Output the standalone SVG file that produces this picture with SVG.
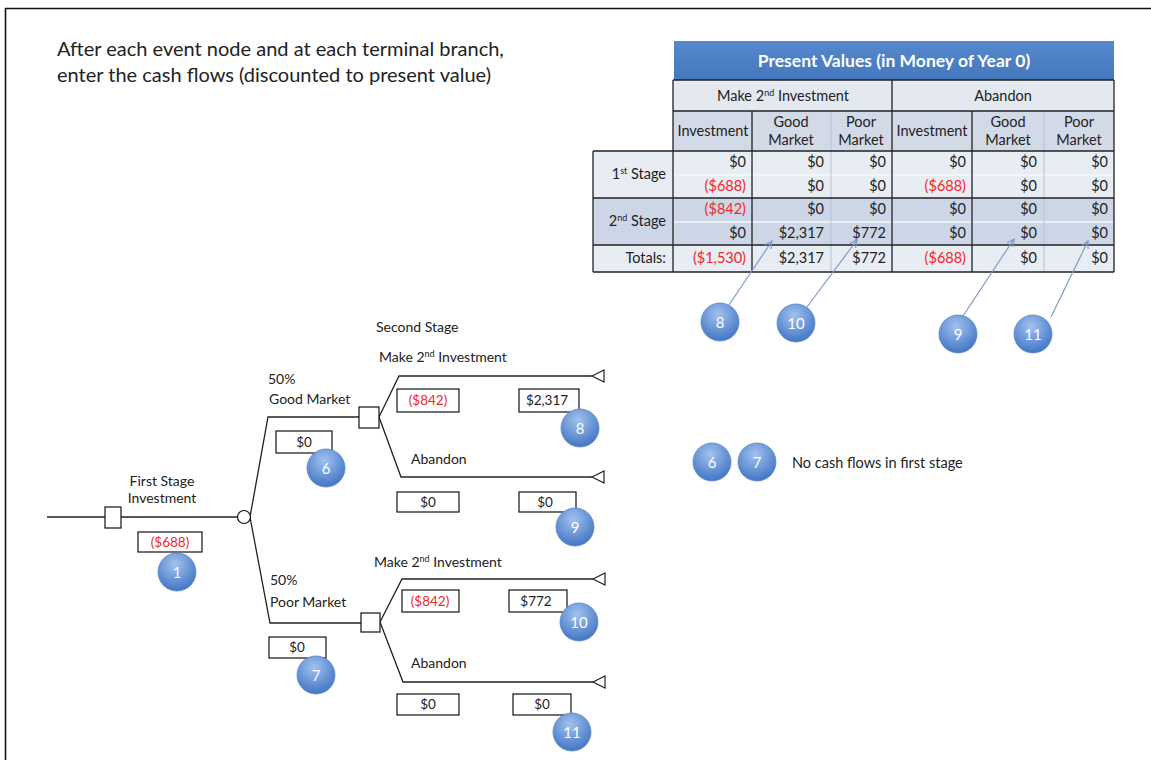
<svg xmlns="http://www.w3.org/2000/svg" width="1151" height="760" viewBox="0 0 1151 760">
<style>
text{font-family:Lato,"Liberation Sans",sans-serif;fill:#222}
.t{font-size:14.5px}
.r{text-anchor:end}
.m{text-anchor:middle}
.red{fill:#f02828}
.dk{stroke:#222;stroke-width:1.3;fill:none}
.lt{stroke:#f4f6fa;stroke-width:1.5;fill:none}
.ln{stroke:#222;stroke-width:1.3;fill:none}
.bx{fill:#fff;stroke:#111;stroke-width:1.2}
.bt{font-size:13.5px;text-anchor:middle}
.lb{font-size:14px}
.cn{font-size:15px;fill:#fff;text-anchor:middle}
.ar{stroke:#7f9cc8;stroke-width:1.2;fill:none}
</style>
<defs>
<radialGradient id="g" cx="0.45" cy="0.3" r="0.75">
<stop offset="0" stop-color="#a2c2ee"/>
<stop offset="1" stop-color="#3b70c2"/>
</radialGradient>
<linearGradient id="hb" x1="0" y1="0" x2="0" y2="1">
<stop offset="0" stop-color="#5588cc"/>
<stop offset="1" stop-color="#4577bd"/>
</linearGradient>
<marker id="a" viewBox="0 0 10 10" refX="9" refY="5" markerWidth="9" markerHeight="9" orient="auto" markerUnits="userSpaceOnUse">
<path d="M1 1 L9 5 L1 9" stroke="#7f9cc8" stroke-width="1.3" fill="none"/>
</marker>
<g id="c"><circle r="19" fill="url(#g)" stroke="#5a86c8" stroke-width="0.8"/></g>
</defs>
<rect width="1151" height="760" fill="#fff"/>
<path d="M5.5 760 V8.5 H1151" stroke="#111" stroke-width="1.6" fill="none"/>

<g id="intro">
<text x="57" y="56" style="font-size:20px">After each event node and at each terminal branch,</text>
<text x="57" y="82" style="font-size:20px">enter the cash flows (discounted to present value)</text>
</g>

<g id="table">
<rect x="674" y="41" width="440" height="39" fill="url(#hb)"/>
<text x="894" y="67" class="m" style="font-size:17.5px;font-weight:bold;fill:#fff">Present Values (in Money of Year 0)</text>
<rect x="673" y="80" width="441" height="31" fill="#e4e9f1"/>
<rect x="673" y="111" width="441" height="40" fill="#d2dae8"/>
<rect x="593" y="151" width="521" height="47" fill="#e8ecf3"/>
<rect x="593" y="198" width="521" height="47" fill="#cdd6e6"/>
<rect x="593" y="245" width="521" height="27" fill="#e8ecf3"/>
<path class="lt" d="M673 175 H1114 M673 222 H1114"/>
<path class="lt" d="M831 111 V272 M1044 111 V272" style="stroke:#b9c3d4;stroke-width:1"/>
<path class="dk" d="M673 80 H1114 M673 111 H1114 M593 151 H1114 M593 198 H1114 M593 245 H1114 M593 272 H1114 M593 151 V272 M673 80 V272 M752 111 V272 M892 80 V272 M972 111 V272 M1114 80 V272"/>
<text x="783" y="101" class="t m">Make 2<tspan dy="-5" style="font-size:9px">nd</tspan><tspan dy="5"> Investment</tspan></text>
<text x="1003" y="101" class="t m">Abandon</text>
<text x="713" y="136" class="t m">Investment</text>
<text x="791" y="127" class="t m">Good</text><text x="791" y="145" class="t m">Market</text>
<text x="861" y="127" class="t m">Poor</text><text x="861" y="145" class="t m">Market</text>
<text x="932" y="136" class="t m">Investment</text>
<text x="1008" y="127" class="t m">Good</text><text x="1008" y="145" class="t m">Market</text>
<text x="1079" y="127" class="t m">Poor</text><text x="1079" y="145" class="t m">Market</text>
<text x="666" y="179" class="t r">1<tspan dy="-5" style="font-size:9px">st</tspan><tspan dy="5"> Stage</tspan></text>
<text x="666" y="226" class="t r">2<tspan dy="-5" style="font-size:9px">nd</tspan><tspan dy="5"> Stage</tspan></text>
<text x="666" y="263" class="t r">Totals:</text>
<g>
<text x="746" y="167" class="t r">$0</text><text x="824" y="167" class="t r">$0</text><text x="886" y="167" class="t r">$0</text><text x="966" y="167" class="t r">$0</text><text x="1037" y="167" class="t r">$0</text><text x="1108" y="167" class="t r">$0</text>
<text x="746" y="191" class="t r red">($688)</text><text x="824" y="191" class="t r">$0</text><text x="886" y="191" class="t r">$0</text><text x="966" y="191" class="t r red">($688)</text><text x="1037" y="191" class="t r">$0</text><text x="1108" y="191" class="t r">$0</text>
<text x="746" y="214" class="t r red">($842)</text><text x="824" y="214" class="t r">$0</text><text x="886" y="214" class="t r">$0</text><text x="966" y="214" class="t r">$0</text><text x="1037" y="214" class="t r">$0</text><text x="1108" y="214" class="t r">$0</text>
<text x="746" y="238" class="t r">$0</text><text x="824" y="238" class="t r">$2,317</text><text x="886" y="238" class="t r">$772</text><text x="966" y="238" class="t r">$0</text><text x="1037" y="238" class="t r">$0</text><text x="1108" y="238" class="t r">$0</text>
<text x="746" y="263" class="t r red">($1,530)</text><text x="824" y="263" class="t r">$2,317</text><text x="886" y="263" class="t r">$772</text><text x="966" y="263" class="t r red">($688)</text><text x="1037" y="263" class="t r">$0</text><text x="1108" y="263" class="t r">$0</text>
</g>
</g>

<g id="connectors">
<path class="ar" d="M729 305 L772 241" marker-end="url(#a)"/>
<path class="ar" d="M807 307 L857 240" marker-end="url(#a)"/>
<path class="ar" d="M963 316 L1014 239" marker-end="url(#a)"/>
<path class="ar" d="M1051 317 L1088 241" marker-end="url(#a)"/>
<path class="ln" d="M47 517 H105 M121 517 H238 M250 517 L268 417 H359 M250 517 L270 623 H361"/>
<path class="ln" d="M379 417 L399 376 H592 M379 417 L401 477 H592"/>
<path class="ln" d="M380 622 L402 579 H593 M380 622 L403 682 H593"/>
</g>

<g id="n-decision1"><rect x="105" y="507" width="16" height="21" class="bx"/></g>
<g id="n-chance"><circle cx="244" cy="517" r="6.5" class="bx"/></g>
<g id="n-decision2a"><rect x="359" y="407" width="20" height="21" class="bx"/></g>
<g id="n-decision2b"><rect x="361" y="613" width="19" height="19" class="bx"/></g>
<g id="terminals" fill="#fff" stroke="#222" stroke-width="1.2">
<path d="M592 376 L604 370 V382 Z"/>
<path d="M592 477 L604 471 V483 Z"/>
<path d="M593 579 L605 573 V585 Z"/>
<path d="M593 682 L605 676 V688 Z"/>
</g>

<g id="labels">
<text x="162" y="486" class="lb m">First Stage</text>
<text x="162" y="503" class="lb m">Investment</text>
<text x="268" y="384" class="lb">50%</text>
<text x="269" y="404" class="lb">Good Market</text>
<text x="376" y="332" class="lb">Second Stage</text>
<text x="379" y="362" class="lb">Make 2<tspan dy="-5" style="font-size:9px">nd</tspan><tspan dy="5"> Investment</tspan></text>
<text x="411" y="464" class="lb">Abandon</text>
<text x="270" y="585" class="lb">50%</text>
<text x="270" y="607" class="lb">Poor Market</text>
<text x="374" y="567" class="lb">Make 2<tspan dy="-5" style="font-size:9px">nd</tspan><tspan dy="5"> Investment</tspan></text>
<text x="411" y="668" class="lb">Abandon</text>
<text x="792" y="468" class="lb" style="font-size:14.5px">No cash flows in first stage</text>
</g>

<g id="boxes">
<rect x="138" y="532" width="64" height="20" class="bx"/><text x="170" y="547" class="bt red">($688)</text>
<rect x="276" y="431" width="56" height="22" class="bx"/><text x="304" y="447" class="bt">$0</text>
<rect x="269" y="637" width="57" height="21" class="bx"/><text x="297" y="652" class="bt">$0</text>
<rect x="397" y="389" width="62" height="23" class="bx"/><text x="428" y="405" class="bt red">($842)</text>
<rect x="519" y="389" width="60" height="23" class="bx"/><text x="547" y="405" class="bt">$2,317</text>
<rect x="397" y="492" width="62" height="20" class="bx"/><text x="428" y="507" class="bt">$0</text>
<rect x="519" y="492" width="57" height="20" class="bx"/><text x="545" y="507" class="bt">$0</text>
<rect x="402" y="590" width="57" height="22" class="bx"/><text x="430" y="606" class="bt red">($842)</text>
<rect x="509" y="590" width="58" height="22" class="bx"/><text x="536" y="606" class="bt">$772</text>
<rect x="397" y="694" width="62" height="21" class="bx"/><text x="428" y="709" class="bt">$0</text>
<rect x="513" y="694" width="58" height="21" class="bx"/><text x="542" y="709" class="bt">$0</text>
</g>

<g id="badges">
<g id="b1"><use href="#c" x="177" y="572"/><text x="177" y="578" class="cn">1</text></g>
<g id="b6"><use href="#c" x="326" y="468"/><text x="326" y="474" class="cn">6</text></g>
<g id="b7"><use href="#c" x="316" y="675"/><text x="316" y="681" class="cn">7</text></g>
<g id="b8t"><use href="#c" x="580" y="428"/><text x="580" y="434" class="cn">8</text></g>
<g id="b9t"><use href="#c" x="575" y="527"/><text x="575" y="533" class="cn">9</text></g>
<g id="b10t"><use href="#c" x="579" y="622"/><text x="579" y="628" class="cn">10</text></g>
<g id="b11t"><use href="#c" x="572" y="732"/><text x="572" y="738" class="cn">11</text></g>
<g id="b8"><use href="#c" x="720" y="322"/><text x="720" y="328" class="cn">8</text></g>
<g id="b10"><use href="#c" x="796" y="323"/><text x="796" y="329" class="cn">10</text></g>
<g id="b9"><use href="#c" x="958" y="334"/><text x="958" y="340" class="cn">9</text></g>
<g id="b11"><use href="#c" x="1033" y="334"/><text x="1033" y="340" class="cn">11</text></g>
<g id="b6l"><use href="#c" x="712" y="462"/><text x="712" y="468" class="cn">6</text></g>
<g id="b7l"><use href="#c" x="757" y="462"/><text x="757" y="468" class="cn">7</text></g>
</g>
</svg>
